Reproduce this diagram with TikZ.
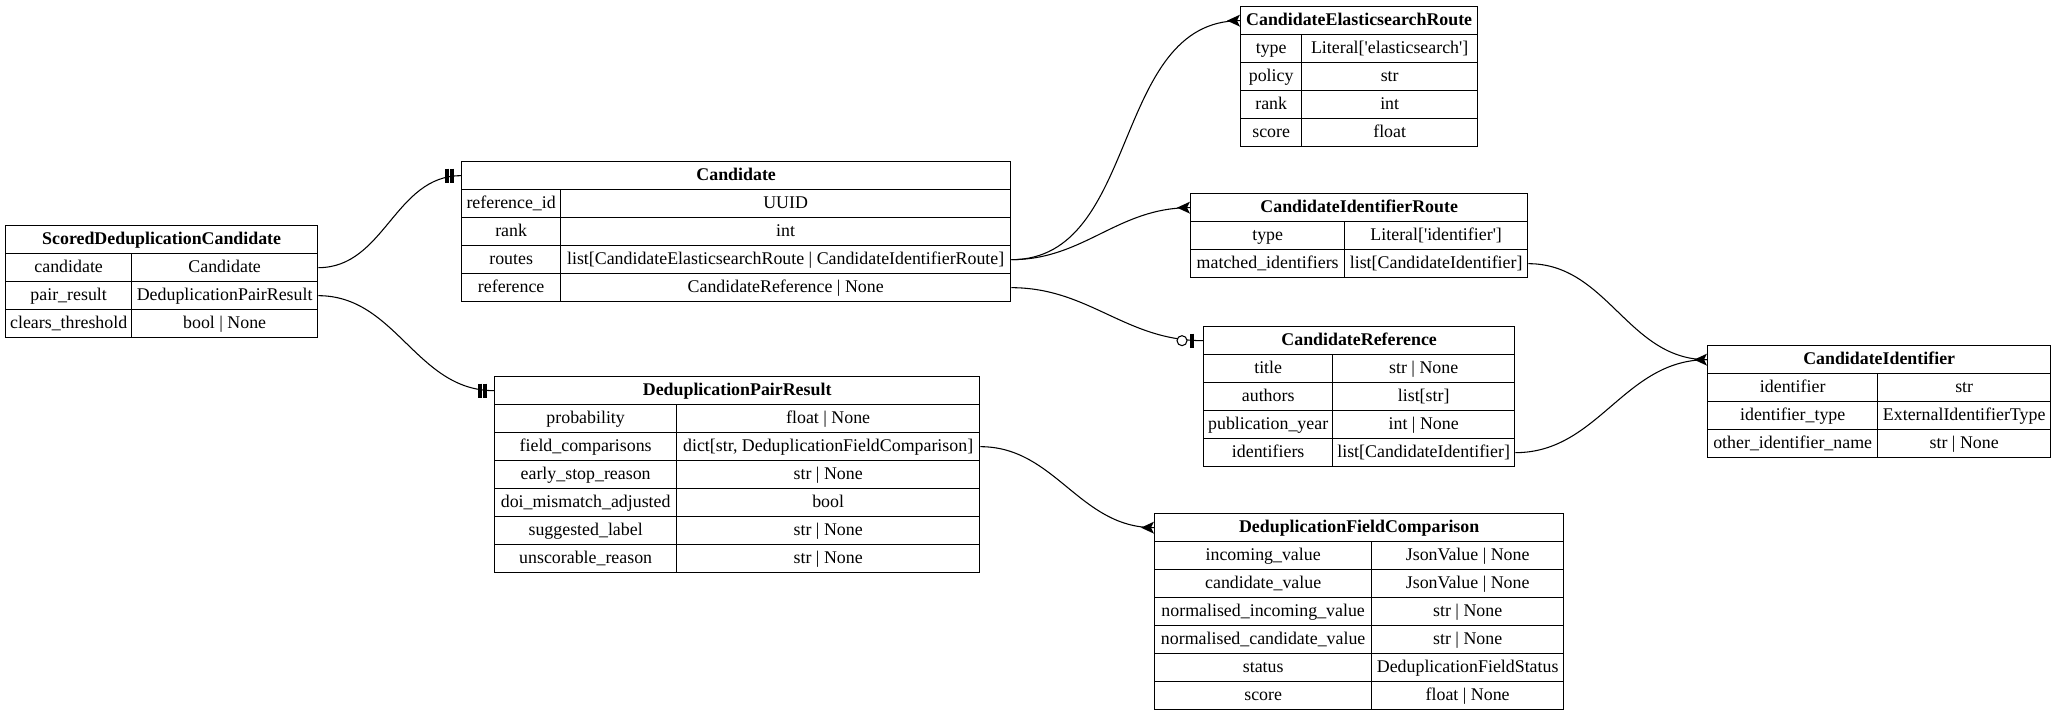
\documentclass[tikz,border=0pt]{standalone}
\usepackage{fontspec}
\setmainfont{Liberation Serif}[Ligatures=TeXOff]
\tikzstyle{cell} = [rectangle,draw=black,line width=1pt,inner sep=0pt,
minimum height=21pt,text height=9.5pt,text depth=3pt,
font=\fontsize{13.4}{16}\selectfont]
\tikzstyle{head} = [cell,font=\fontsize{13.4}{16}\selectfont\bfseries]
\tikzstyle{rel} = [line width=0.8pt]
\tikzstyle{bar} = [line width=2.6pt]
\newcommand{\entity}[7]{ %
  % Table #1: left #2, column split #3, right #4, top #5, title #6, rows #7.
  \node[head, anchor=north west, minimum width={(#4-#2)*0.75pt}] (#1) at (#2,#5) {#6};
  \foreach \fld/\typ [count=\i] in {#7} { %
    \node[cell, anchor=north west, minimum width={(#3-#2)*0.75pt}]
      (#1-f\i) at (#2,{#5+28*\i}) {\fld};
    \node[cell, anchor=north west, minimum width={(#4-#3)*0.75pt}]
      (#1-t\i) at (#3,{#5+28*\i}) {\typ};
  } ;
}
\newcommand{\relate}[2]{ %
  \draw[rel] (#1) to[out=0,in=180] (#2) ;
}
\newcommand{\onlyone}[1]{ %
  \draw[bar, shift={(#1)}] (-9,-7) -- (-9,7) ;
  \draw[bar, shift={(#1)}] (-14,-7) -- (-14,7) ;
}
\newcommand{\zeroone}[1]{ %
  \draw[rel, fill=white, shift={(#1)}] (-21,0) circle[radius=5] ;
  \draw[bar, shift={(#1)}] (-11,-7) -- (-11,7) ;
}
\newcommand{\crowfoot}[1]{ %
  \fill[shift={(#1)}] (0,-6) -- (-13,0) -- (0,6) -- (-3,0) -- cycle ;
}

\begin{document}
\begin{tikzpicture}[x=0.75pt, y=-0.75pt]
  \useasboundingbox (0,0) rectangle (2055,715);

  \entity{sdc}{5}{131}{317}{225}{ScoredDeduplicationCandidate}
    {candidate/Candidate, pair\_result/DeduplicationPairResult,
     clears\_threshold/{bool | None}}
  \entity{cand}{461}{560}{1010}{161}{Candidate}
    {reference\_id/UUID, rank/int,
     routes/{list[CandidateElasticsearchRoute | CandidateIdentifierRoute]},
     reference/{CandidateReference | None}}
  \entity{dpr}{494}{676}{979}{376}{DeduplicationPairResult}
    {probability/{float | None},
     field\_comparisons/{dict[str, DeduplicationFieldComparison]},
     early\_stop\_reason/{str | None}, doi\_mismatch\_adjusted/bool,
     suggested\_label/{str | None}, unscorable\_reason/{str | None}}
  \entity{ces}{1240}{1301}{1477}{6}{CandidateElasticsearchRoute}
    {type/{Literal['elasticsearch']}, policy/str, rank/int, score/float}
  \entity{cir}{1190}{1344}{1527}{193}{CandidateIdentifierRoute}
    {type/{Literal['identifier']},
     matched\_identifiers/{list[CandidateIdentifier]}}
  \entity{cr}{1203}{1332}{1514}{326}{CandidateReference}
    {title/{str | None}, authors/{list[str]},
     publication\_year/{int | None}, identifiers/{list[CandidateIdentifier]}}
  \entity{ci}{1707}{1877}{2050}{345}{CandidateIdentifier}
    {identifier/str, identifier\_type/ExternalIdentifierType,
     other\_identifier\_name/{str | None}}
  \entity{dfc}{1154}{1371}{1563}{513}{DeduplicationFieldComparison}
    {incoming\_value/{JsonValue | None}, candidate\_value/{JsonValue | None},
     normalised\_incoming\_value/{str | None},
     normalised\_candidate\_value/{str | None},
     status/DeduplicationFieldStatus, score/{float | None}}

  \relate{sdc-t1.east}{cand.west}
  \relate{sdc-t2.east}{dpr.west}
  \relate{cand-t3.east}{ces.west}
  \relate{cand-t3.east}{cir.west}
  \relate{cand-t4.east}{cr.west}
  \relate{cir-t2.east}{ci.west}
  \relate{cr-t4.east}{ci.west}
  \relate{dpr-t2.east}{dfc.west}

  \onlyone{cand.west}
  \onlyone{dpr.west}
  \zeroone{cr.west}
  \crowfoot{ces.west}
  \crowfoot{cir.west}
  \crowfoot{ci.west}
  \crowfoot{dfc.west}
\end{tikzpicture}
\end{document}
